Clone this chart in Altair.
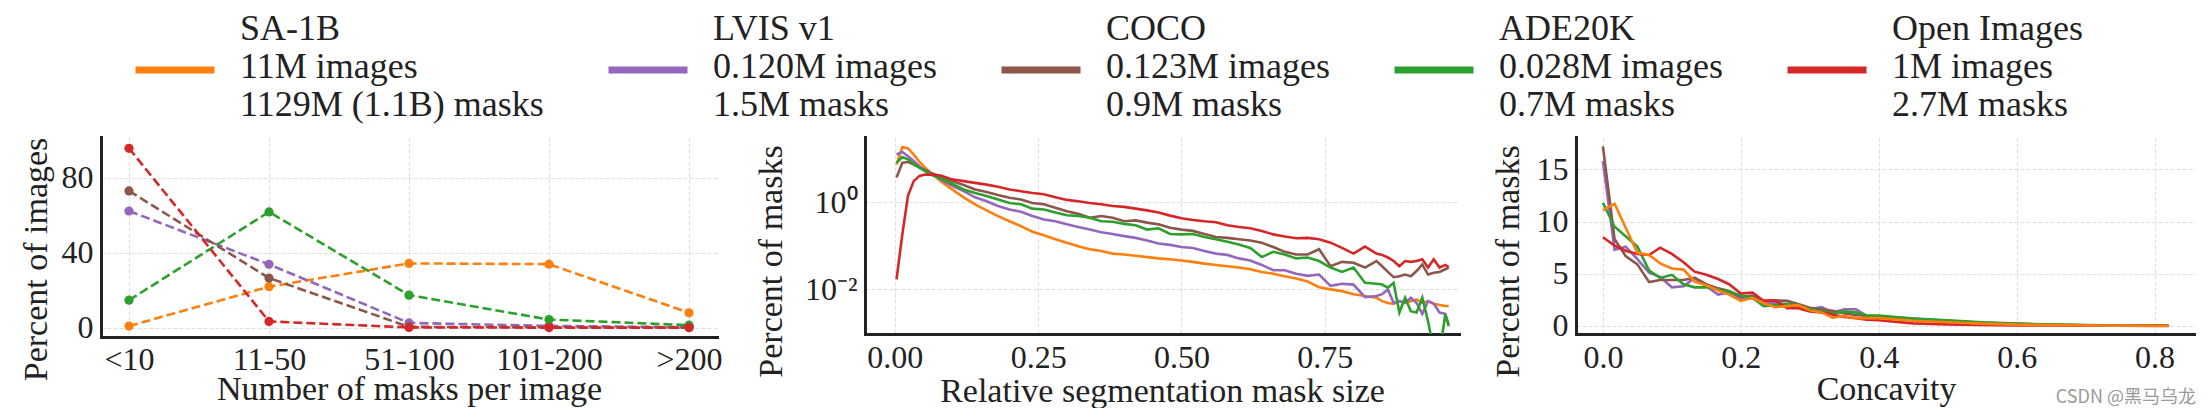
import altair as alt
import pandas as pd

FONT = "Liberation Serif"
INK = "#222222"

# ---------------- legend / datasets ----------------
datasets = ["SA-1B", "LVIS v1", "COCO", "ADE20K", "Open Images"]
legend_images = ["11M images", "0.120M images", "0.123M images", "0.028M images", "1M images"]
legend_masks = ["1129M (1.1B) masks", "1.5M masks", "0.9M masks", "0.7M masks", "2.7M masks"]
colors = ["#ff7f0e", "#9467bd", "#8c564b", "#2ca02c", "#d62728"]

# ---------------- panel 1: masks per image ----------------
mask_bins = ["<10", "11-50", "51-100", "101-200", ">200"]
p1_sa1b = [0.9, 21.9, 34.3, 33.9, 8.0]
p1_lvis = [62.2, 33.8, 2.6, 1.0, 0.3]
p1_coco = [72.9, 26.5, 0.5, 0.3, 0.1]
p1_ade = [14.7, 61.7, 17.4, 4.4, 1.4]
p1_oi = [95.6, 3.4, 0.2, 0.1, 0.1]

# ---------------- panel 2: relative mask size (log10 of percent) ----------------
p2_x = [0.003, 0.013, 0.023, 0.033, 0.043, 0.053, 0.063, 0.08,
        0.10, 0.12, 0.14, 0.16, 0.18, 0.20, 0.22, 0.24, 0.26, 0.28,
        0.30, 0.32, 0.34, 0.36, 0.38, 0.40, 0.42, 0.44, 0.46, 0.48,
        0.50, 0.52, 0.54, 0.56, 0.58, 0.60, 0.62, 0.64, 0.66, 0.68,
        0.70, 0.72, 0.74, 0.76, 0.78, 0.80, 0.82, 0.84,
        0.85, 0.86, 0.87, 0.88, 0.89, 0.90, 0.91, 0.92, 0.93, 0.94, 0.95, 0.96, 0.966]
p2_sa1b = [0.86, 1.26, 1.23, 1.09, 0.92, 0.79, 0.67, 0.48,
           0.29, 0.11, -0.05, -0.19, -0.32, -0.44, -0.55, -0.68, -0.76, -0.85,
           -0.93, -1.01, -1.08, -1.12, -1.18, -1.20, -1.23, -1.26, -1.29, -1.31,
           -1.34, -1.37, -1.41, -1.44, -1.47, -1.50, -1.54, -1.60, -1.64, -1.70,
           -1.75, -1.82, -1.95, -2.00, -2.04, -2.11, -2.15, -2.19,
           -2.27, -2.31, -2.33, -2.27, -2.31, -2.27, -2.23, -2.31, -2.27, -2.33, -2.36, -2.38, -2.38]
p2_lvis = [1.09, 1.15, 1.05, 0.94, 0.82, 0.73, 0.65, 0.52,
           0.37, 0.25, 0.11, 0.02, -0.09, -0.17, -0.22, -0.32, -0.40, -0.44,
           -0.51, -0.57, -0.63, -0.69, -0.73, -0.78, -0.82, -0.88, -0.95, -0.98,
           -1.03, -1.05, -1.12, -1.18, -1.21, -1.29, -1.34, -1.44, -1.56, -1.56,
           -1.64, -1.69, -1.66, -1.92, -1.87, -1.89, -2.18, -2.15,
           -2.11, -2.00, -2.31, -2.27, -2.31, -2.19, -2.31, -2.56, -2.27, -2.33, -2.53, -2.56, -2.80]
p2_coco = [0.56, 0.90, 0.92, 0.86, 0.79, 0.73, 0.67, 0.58,
           0.48, 0.39, 0.29, 0.23, 0.16, 0.10, 0.06, -0.02, -0.05, -0.13,
           -0.21, -0.27, -0.36, -0.32, -0.36, -0.44, -0.42, -0.47, -0.51, -0.59,
           -0.63, -0.66, -0.73, -0.80, -0.82, -0.85, -0.88, -0.93, -1.03, -1.14,
           -1.20, -1.20, -1.08, -1.47, -1.37, -1.39, -1.50, -1.35,
           -1.47, -1.60, -1.72, -1.70, -1.66, -1.70, -1.58, -1.43, -1.66, -1.62, -1.60, -1.54, -1.50]
p2_ade = [0.90, 1.03, 0.98, 0.88, 0.79, 0.71, 0.63, 0.54,
          0.42, 0.29, 0.21, 0.14, 0.06, -0.02, -0.05, -0.15, -0.17, -0.24,
          -0.30, -0.32, -0.36, -0.44, -0.45, -0.50, -0.53, -0.63, -0.60, -0.73,
          -0.74, -0.73, -0.80, -0.85, -0.91, -0.97, -1.05, -1.26, -1.14, -1.20,
          -1.29, -1.27, -1.35, -1.50, -1.60, -1.50, -1.85, -1.87,
          -1.89, -1.96, -1.85, -2.53, -2.19, -2.50, -2.53, -2.19, -2.73, -3.40, -3.50, -2.57, -2.84]
p2_oi = [-1.77, -0.75, 0.15, 0.48, 0.60, 0.63, 0.63, 0.61,
         0.52, 0.48, 0.44, 0.40, 0.35, 0.29, 0.25, 0.21, 0.18, 0.11,
         0.05, 0.02, -0.02, -0.05, -0.09, -0.11, -0.15, -0.19, -0.24, -0.31,
         -0.37, -0.41, -0.44, -0.46, -0.53, -0.57, -0.60, -0.66, -0.74, -0.79,
         -0.83, -0.82, -0.85, -0.93, -1.05, -1.18, -1.02, -1.18,
         -1.21, -1.27, -1.35, -1.47, -1.35, -1.37, -1.35, -1.31, -1.50, -1.31, -1.50, -1.44, -1.49]

# ---------------- panel 3: concavity (percent of masks) ----------------
p3_x = [0.0, 0.017, 0.033, 0.05, 0.067, 0.083, 0.1, 0.117, 0.133, 0.15, 0.167, 0.183,
        0.2, 0.217, 0.233, 0.25, 0.267, 0.283, 0.3, 0.317, 0.333, 0.35, 0.367, 0.383,
        0.4, 0.45, 0.5, 0.55, 0.6, 0.65, 0.7, 0.75, 0.8, 0.82]
p3_sa1b = [11.1, 11.7, 9.4, 7.0, 6.8, 6.0, 5.5, 5.4, 4.25, 3.9, 3.4, 3.0,
           2.4, 2.7, 2.2, 1.8, 1.9, 2.0, 1.5, 1.3, 0.8, 0.95, 0.75, 0.75,
           0.75, 0.5, 0.35, 0.22, 0.13, 0.08, 0.05, 0.03, 0.02, 0.02]
p3_lvis = [15.8, 7.3, 7.6, 6.4, 5.1, 4.7, 3.7, 3.8, 4.6, 3.8, 3.0, 3.2,
           2.6, 2.65, 2.2, 2.2, 2.1, 1.9, 1.6, 1.8, 1.3, 1.6, 1.6, 0.95,
           0.9, 0.7, 0.5, 0.3, 0.2, 0.12, 0.07, 0.04, 0.03, 0.02]
p3_coco = [17.2, 8.3, 6.7, 5.9, 4.2, 4.4, 4.4, 4.4, 4.6, 4.0, 3.6, 3.35,
           2.8, 2.9, 2.4, 2.45, 2.4, 2.1, 1.75, 1.6, 1.45, 1.2, 1.05, 0.95,
           0.95, 0.6, 0.45, 0.3, 0.2, 0.12, 0.07, 0.04, 0.03, 0.02]
p3_ade = [11.8, 9.5, 8.6, 7.6, 5.3, 4.6, 4.9, 4.0, 3.7, 3.7, 3.5, 3.3,
          2.9, 2.7, 1.9, 2.0, 2.1, 2.0, 1.6, 1.45, 1.2, 1.4, 1.3, 1.0,
          1.0, 0.7, 0.55, 0.35, 0.22, 0.13, 0.08, 0.04, 0.03, 0.02]
p3_oi = [8.5, 7.7, 7.2, 6.9, 6.8, 7.5, 6.9, 6.1, 5.2, 4.9, 4.5, 4.0,
         3.1, 3.2, 2.4, 2.45, 1.7, 1.7, 1.4, 1.3, 1.1, 0.85, 0.75, 0.6,
         0.55, 0.25, 0.15, 0.1, 0.06, 0.04, 0.03, 0.02, 0.01, 0.01]

for s in (p2_sa1b, p2_lvis, p2_coco, p2_ade, p2_oi):
    assert len(s) == len(p2_x), len(s)
for s in (p3_sa1b, p3_lvis, p3_coco, p3_ade, p3_oi):
    assert len(s) == len(p3_x), len(s)

# ---------------- tables ----------------
def long_table(xs, series, order, xname, yname):
    rows = []
    for name in order:
        for xv, yv in zip(xs, series[name]):
            rows.append({"dataset": name, xname: xv, yname: yv})
    return pd.DataFrame(rows)

df1 = long_table(mask_bins, dict(zip(datasets, [p1_sa1b, p1_lvis, p1_coco, p1_ade, p1_oi])),
                 datasets, "bin", "pct")
df2 = long_table(p2_x, dict(zip(datasets, [p2_sa1b, p2_lvis, p2_coco, p2_ade, p2_oi])),
                 datasets, "size", "logpct")
p3_order = ["LVIS v1", "COCO", "ADE20K", "Open Images", "SA-1B"]
df3 = long_table(p3_x, dict(zip(datasets, [p3_sa1b, p3_lvis, p3_coco, p3_ade, p3_oi])),
                 p3_order, "concavity", "pct")

color_scale = alt.Scale(domain=datasets, range=colors)

def label_expr():
    parts = []
    for n, i, m in zip(datasets, legend_images, legend_masks):
        parts.append(f"datum.label == '{n}' ? ['{n}', '{i}', '{m}']")
    return " : ".join(parts) + " : datum.label"

# legend stroke symbol sits beside the middle line of each three-line label
legend = alt.Legend(
    orient="none", legendX=31, legendY=-151, direction="horizontal", columns=5,
    gridAlign="each", columnPadding=50, title=None, padding=0,
    symbolType="M-1,1.04L1,1.04", symbolSize=6241, symbolStrokeWidth=7, symbolDash=[1, 0],
    labelFont=FONT, labelFontSize=36, labelColor=INK, labelLimit=800,
    labelOffset=22, labelExpr=label_expr(),
)
color_enc = alt.Color("dataset:N", scale=color_scale, legend=legend)

# ---------------- panel 1 ----------------
base1 = alt.Chart(df1).encode(
    x=alt.X("bin:N", sort=mask_bins, scale=alt.Scale(type="point", padding=0.2),
            axis=alt.Axis(title="Number of masks per image", labelAngle=0, grid=True,
                          labelPadding=7, titleY=62, titleBaseline="alphabetic")),
    y=alt.Y("pct:Q", scale=alt.Scale(domain=[-4.9, 101.6], nice=False, zero=False),
            axis=alt.Axis(values=[0, 40, 80], title="Percent of images",
                          titleX=-55, titleY=122, titleBaseline="alphabetic", titleAlign="center")),
    color=color_enc,
)
p1 = alt.layer(
    base1.mark_line(strokeDash=[9, 4], strokeWidth=2.6),
    base1.mark_circle(size=85, opacity=1),
).properties(width=616, height=200)

# ---------------- panel 2 ----------------
p2 = alt.Chart(df2).transform_calculate(
    pctv="pow(10, datum.logpct)"
).mark_line(strokeWidth=2.6, clip=True).encode(
    x=alt.X("size:Q", scale=alt.Scale(domain=[-0.052, 0.984], nice=False, zero=False),
            axis=alt.Axis(values=[0, 0.25, 0.5, 0.75], format=".2f",
                          title="Relative segmentation mask size",
                          titleY=67, titleBaseline="alphabetic")),
    y=alt.Y("pctv:Q", scale=alt.Scale(type="log", domain=[0.00095, 31], nice=False),
            axis=alt.Axis(values=[0.01, 1], title="Percent of masks",
                          labelExpr="datum.value >= 0.5 ? '10⁰' : '10⁻²'",
                          titleX=-84, titleY=124, titleBaseline="alphabetic", titleAlign="center")),
    color=color_enc,
).properties(width=594, height=197)

# ---------------- panel 3 ----------------
p3 = alt.Chart(
    df3,
    title=alt.TitleParams("CSDN @黑马乌龙", orient="bottom", anchor="end", frame="group",
                          font="Noto Sans CJK SC", fontSize=18, fontWeight="normal",
                          color="#9a9a9a", offset=-3, baseline="alphabetic"),
).mark_line(strokeWidth=2.6).encode(
    x=alt.X("concavity:Q", scale=alt.Scale(domain=[-0.039, 0.860], nice=False, zero=False),
            axis=alt.Axis(values=[0, 0.2, 0.4, 0.6, 0.8], format=".1f", title="Concavity",
                          titleY=65, titleBaseline="alphabetic")),
    y=alt.Y("pct:Q", scale=alt.Scale(domain=[-0.77, 18.1], nice=False, zero=False),
            axis=alt.Axis(values=[0, 5, 10, 15], title="Percent of masks",
                          titleX=-58, titleY=124, titleBaseline="alphabetic", titleAlign="center")),
    color=color_enc,
).properties(width=620, height=197)

# invisible gaps between the panels (flush layout: only plot areas count)
def gap(w):
    return alt.Chart(pd.DataFrame({"g": [0]})).mark_point(opacity=0).encode(
        x=alt.value(0), y=alt.value(0)
    ).properties(width=w, height=1)

chart = alt.hconcat(p1, gap(148), p2, gap(117), p3, spacing=0, bounds="flush").properties(
    padding={"left": 10, "top": -22, "right": 0, "bottom": 0}
).configure_view(stroke=None).configure_axis(
    domainColor=INK, domainWidth=3, domainCap="square", ticks=False,
    labelFont=FONT, labelFontSize=32, labelColor=INK, labelPadding=8,
    titleFont=FONT, titleFontSize=34, titleColor=INK, titleFontWeight="normal",
    gridColor="#dedede", gridDash=[4, 2], gridWidth=1,
)

chart.save("out.html", embed_options={"renderer": "svg", "actions": False})
